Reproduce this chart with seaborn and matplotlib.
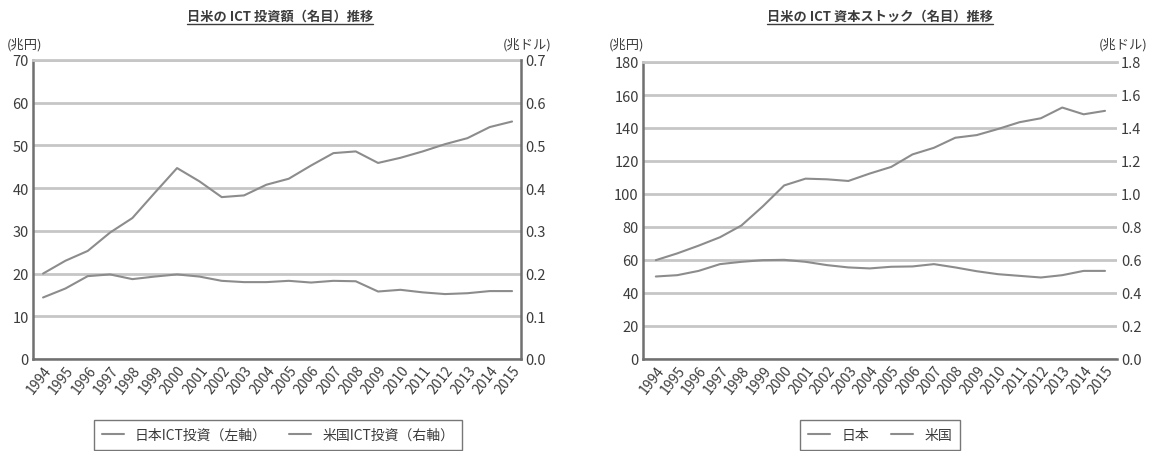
import numpy as np
import pandas as pd
import matplotlib.pyplot as plt
import seaborn as sns
from matplotlib.lines import Line2D

years = list(range(1994, 2016))

# 日米のICT投資額 (left: 兆円, right: 兆ドル)
jp_invest = [20.0, 23.0, 25.3, 29.6, 33.0, 38.9, 44.7, 41.6, 37.9, 38.3, 40.8,
             42.2, 45.3, 48.2, 48.6, 45.9, 47.1, 48.6, 50.3, 51.7, 54.3, 55.6]
us_invest = [0.144, 0.165, 0.194, 0.198, 0.187, 0.193, 0.198, 0.193, 0.183, 0.180, 0.180,
             0.183, 0.179, 0.183, 0.182, 0.158, 0.162, 0.156, 0.152, 0.154, 0.159, 0.159]

# 日米のICT資本ストック
jp_stock = [59.9, 64.0, 68.7, 73.8, 80.9, 92.5, 105.2, 109.3, 108.9, 107.9, 112.4,
            116.4, 124.0, 128.0, 134.1, 135.7, 139.4, 143.5, 145.9, 152.4, 148.3, 150.4]
us_stock = [0.500, 0.508, 0.534, 0.575, 0.589, 0.599, 0.601, 0.589, 0.569, 0.555, 0.549,
            0.559, 0.561, 0.575, 0.555, 0.532, 0.514, 0.504, 0.494, 0.508, 0.534, 0.534]

titles = ["日米の ICT 投資額（名目）推移", "日米の ICT 資本ストック（名目）推移"]
legend_labels = [["日本ICT投資（左軸）", "米国ICT投資（右軸）"], ["日本", "米国"]]

sns.set_style("white")
plt.rcParams['font.family'] = ['Noto Sans CJK JP', 'DejaVu Sans']

LINE = '#8c8c8c'
GRID = '#c6c6c6'
SPINE = '#707070'
TEXT = '#3c3c3c'

df = pd.DataFrame({'year': years, 'jp_invest': jp_invest, 'us_invest': us_invest,
                   'jp_stock': jp_stock, 'us_stock': us_stock})

W, H = 1151, 452
fig = plt.figure(figsize=(W / 100, H / 100), dpi=100)
ax1 = fig.add_axes([33 / W, 92 / H, 488 / W, 299 / H])
ax2 = fig.add_axes([643 / W, 92 / H, 474 / W, 297 / H])


def panel(ax, jp, us, ymax, ystep, ymax_r, ystep_r, xlim, box):
    sns.lineplot(data=df, x='year', y=jp, ax=ax, color=LINE, lw=1.5)
    tw = ax.twinx()
    sns.lineplot(data=df, x='year', y=us, ax=tw, color=LINE, lw=1.5)

    ax.set_xlim(*xlim)
    ax.set_ylim(0, ymax)
    tw.set_ylim(0, ymax_r)
    ax.set_yticks(np.arange(0, ymax + 1e-9, ystep))
    tw.set_yticks(np.arange(0, ymax_r + 1e-9, ystep_r))
    tw.set_yticklabels([f"{v:.1f}" for v in np.arange(0, ymax_r + 1e-9, ystep_r)])
    ax.set_xticks(years)
    ax.set_xticklabels([str(y) for y in years], rotation=52, ha='right',
                       rotation_mode='anchor', fontsize=10, color=TEXT)
    ax.set_xlabel("")
    ax.set_ylabel("")
    tw.set_ylabel("")
    ax.yaxis.grid(True, color=GRID, lw=2)
    ax.tick_params(axis='y', length=0, pad=3, labelsize=10.5, labelcolor=TEXT)
    ax.tick_params(axis='x', length=0, pad=3)
    tw.tick_params(axis='y', length=0, pad=3, labelsize=10.5, labelcolor=TEXT)

    for a in (ax, tw):
        for s in a.spines.values():
            s.set_visible(False)
    for side in ('left', 'bottom'):
        ax.spines[side].set_visible(True)
        ax.spines[side].set_color(SPINE)
        ax.spines[side].set_linewidth(1.8)
    ax.spines['top'].set_visible(True)
    ax.spines['top'].set_color(GRID)
    ax.spines['top'].set_linewidth(2)
    if box:
        tw.spines['right'].set_visible(True)
        tw.spines['right'].set_color(SPINE)
        tw.spines['right'].set_linewidth(1.8)
    return tw


panel(ax1, 'jp_invest', 'us_invest', 70, 10, 0.7, 0.1, (1993.55, 2015.4), True)
panel(ax2, 'jp_stock', 'us_stock', 180, 20, 1.8, 0.2, (1993.4, 2015.56), False)

# unit labels
fig.text(7 / W, 1 - 45 / H, "(兆円)", fontsize=9.5, color=TEXT, va='center')
fig.text(552 / W, 1 - 45 / H, "(兆ドル)", fontsize=9.5, color=TEXT, va='center', ha='right')
fig.text(609 / W, 1 - 45 / H, "(兆円)", fontsize=9.5, color=TEXT, va='center')
fig.text(1148 / W, 1 - 45 / H, "(兆ドル)", fontsize=9.5, color=TEXT, va='center', ha='right')

# titles with underline
fig.canvas.draw()
renderer = fig.canvas.get_renderer()
for cx, title in zip([280, 880], titles):
    t = fig.text(cx / W, 1 - 17 / H, title, fontsize=9.5, weight='bold',
                 color=TEXT, ha='center', va='center')
    bb = t.get_window_extent(renderer)
    fig.add_artist(Line2D([bb.x0 / W, bb.x1 / W], [(bb.y0 - 1) / H] * 2,
                          color=TEXT, lw=1))

# legends
for cx, labels in zip([278, 880], legend_labels):
    handles = [Line2D([], [], color=LINE, lw=1.5) for _ in labels]
    fig.legend(handles, labels, loc='center', bbox_to_anchor=(cx / W, 1 - 436 / H),
               ncol=2, fontsize=10, frameon=True, fancybox=False,
               edgecolor='#555555', handlelength=1.6, columnspacing=1.6,
               borderpad=0.55, labelcolor=TEXT)

fig.savefig("out.png", dpi=100)
